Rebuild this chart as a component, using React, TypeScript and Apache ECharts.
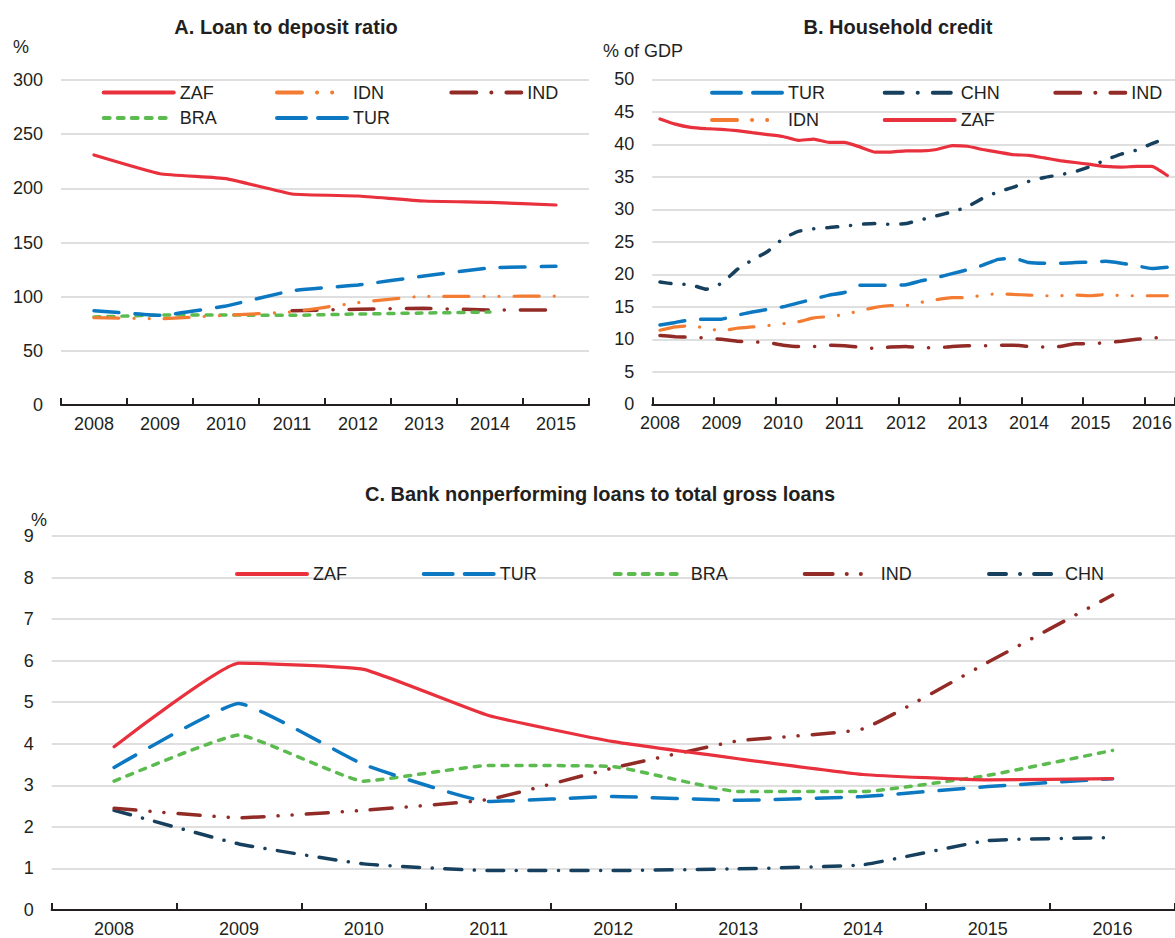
import React, { useEffect, useRef } from "react";
import * as echarts from "echarts";

// ---------- Panel A: Loan to deposit ratio (%) ----------
const yearsA = ["2008", "2009", "2010", "2011", "2012", "2013", "2014", "2015"];
const zafA = [230.8, 213.5, 208.9, 194.8, 192.9, 188.3, 187.1, 184.6];
const idnA = [80.6, 79.7, 82.8, 86.0, 94.5, 100.3, 100.3, 100.6];
const indA = [null, null, null, 87.1, 88.3, 89.2, 87.7, 87.7];
const braA = [81.2, 83.0, 83.0, 82.8, 84.0, 84.9, 85.8, null];
const turA = [87.1, 82.8, 91.4, 105.5, 110.8, 119.0, 126.5, 128.0];

// ---------- Panel B: Household credit (% of GDP), quarterly ----------
const quartersB = [
  "2008Q1", "2008Q2", "2008Q3", "2008Q4",
  "2009Q1", "2009Q2", "2009Q3", "2009Q4",
  "2010Q1", "2010Q2", "2010Q3", "2010Q4",
  "2011Q1", "2011Q2", "2011Q3", "2011Q4",
  "2012Q1", "2012Q2", "2012Q3", "2012Q4",
  "2013Q1", "2013Q2", "2013Q3", "2013Q4",
  "2014Q1", "2014Q2", "2014Q3", "2014Q4",
  "2015Q1", "2015Q2", "2015Q3", "2015Q4",
  "2016Q1", "2016Q2",
];
const turB = [
  12.2, 12.6, 13.0, 13.1, 13.1, 13.7, 14.2, 14.6, 15.0, 15.6, 16.2, 16.8,
  17.2, 18.3, 18.3, 18.3, 18.4, 19.0, 19.5, 20.1, 20.7, 21.4, 22.3, 22.5,
  21.8, 21.7, 21.7, 21.8, 21.9, 22.0, 21.7, 21.3, 20.9, 21.1,
];
const chnB = [
  18.8, 18.5, 18.4, 17.7, 18.6, 20.7, 22.2, 23.5, 25.5, 26.6, 27.0, 27.2,
  27.4, 27.7, 27.8, 27.7, 27.8, 28.4, 29.0, 29.6, 30.4, 31.7, 32.7, 33.4,
  34.3, 34.9, 35.3, 35.8, 36.6, 37.6, 38.5, 39.1, 40.1, 41.0,
];
const indB = [
  10.6, 10.4, 10.3, 10.2, 10.0, 9.7, 9.6, 9.5, 9.1, 8.9, 8.9, 9.1,
  9.0, 8.8, 8.6, 8.8, 8.9, 8.7, 8.7, 8.9, 9.0, 9.0, 9.1, 9.1,
  8.9, 8.8, 8.9, 9.3, 9.3, 9.5, 9.7, 10.0, 10.2, 10.3,
];
const idnB = [
  11.4, 11.9, 12.1, 11.7, 11.3, 11.7, 11.9, 12.1, 12.4, 12.7, 13.3, 13.5,
  13.8, 14.4, 14.9, 15.2, 15.2, 15.7, 16.1, 16.4, 16.4, 16.8, 17.0, 16.9,
  16.8, 16.7, 16.7, 16.8, 16.7, 16.9, 16.7, 16.7, 16.7, 16.7,
];
const zafB = [
  43.9, 43.1, 42.6, 42.4, 42.3, 42.1, 41.8, 41.5, 41.2, 40.6, 40.8, 40.3,
  40.3, 39.6, 38.8, 38.8, 39.0, 39.0, 39.2, 39.8, 39.7, 39.2, 38.8, 38.4,
  38.3, 37.9, 37.5, 37.2, 36.9, 36.6, 36.5, 36.6, 36.6, 35.2,
];

// ---------- Panel C: Bank NPL to total gross loans (%) ----------
const yearsC = ["2008", "2009", "2010", "2011", "2012", "2013", "2014", "2015", "2016"];
const zafC = [3.93, 5.94, 5.79, 4.68, 4.05, 3.64, 3.26, 3.13, 3.16];
const turC = [3.43, 4.97, 3.5, 2.61, 2.73, 2.64, 2.73, 2.97, 3.16];
const braC = [3.1, 4.21, 3.1, 3.48, 3.45, 2.85, 2.85, 3.24, 3.84];
const indC = [2.45, 2.22, 2.4, 2.66, 3.42, 4.07, 4.36, 5.96, 7.58];
const chnC = [2.4, 1.59, 1.11, 0.95, 0.95, 0.99, 1.09, 1.67, 1.74];

// ---------- styles ----------
const FONT = "'Liberation Sans', Arial, Helvetica, sans-serif";
const FS = 18;
const TXT = "#231f20";
const RED = "#e9303d";
const BLUE = "#0b78c1";
const GREEN = "#5cbb4f";
const ORANGE = "#f37b32";
const DARKRED = "#922b26";
const NAVY = "#17405e";
const W = 3.2;

const styles: Record<string, any> = {
  ZAF: { color: RED, width: W, type: "solid", cap: "round" },
  TUR: { color: BLUE, width: W + 0.3, type: [25, 16], cap: "round" },
  BRA: { color: GREEN, width: W + 0.3, type: [6, 8], cap: "round" },
  IDN: { color: ORANGE, width: W, type: [25, 15, 0.1, 15, 0.1, 15], cap: "round" },
  IND: { color: DARKRED, width: W + 0.3, type: [25, 16, 0.1, 16], cap: "round" },
  IND3: { color: DARKRED, width: W + 0.3, type: [22, 14, 0.1, 14, 0.1, 14], cap: "round" },
  CHN: { color: NAVY, width: W + 0.3, type: [11, 13, 0.1, 13], cap: "round" },
  CHN3: { color: NAVY, width: W + 0.3, type: [17, 12.5, 0.1, 12.5], cap: "round" },
};

// legend icon dash patterns
const legendDash: Record<string, any> = {
  ZAF: "solid",
  TUR: [29, 12],
  BRA: [6, 8],
  IDN: [25, 15, 0.1, 15, 0.1, 15],
  IND: [25, 15, 0.1, 15],
  IND3: [28, 14, 0.1, 14, 0.1, 14],
  CHN: [18, 15, 0.1, 15],
  CHN3: [17, 14, 0.1, 14],
};

function line(id: string, key: string, data: any[], idx: number) {
  const ls = styles[key];
  return {
    type: "line",
    name: id,
    data,
    xAxisIndex: idx,
    yAxisIndex: idx,
    symbol: "none",
    smooth: 0.12,
    connectNulls: false,
    lineStyle: { ...ls },
    itemStyle: { color: ls.color },
  };
}

function leg(id: string, key: string, left: number, cy: number) {
  const ls = styles[key];
  return {
    data: [id],
    left,
    top: cy - 9,
    padding: 0,
    itemWidth: 70,
    itemHeight: 14,
    selectedMode: false,
    itemStyle: { opacity: 0 },
    lineStyle: { color: ls.color, width: 4, type: legendDash[key], cap: "round" },
    formatter: (n: string) => n.slice(2),
    textStyle: { fontFamily: FONT, fontSize: FS, color: TXT, padding: [0, 0, 0, 1] },
  };
}

function valueAxis(idx: number, max: number, interval: number) {
  return {
    type: "value",
    gridIndex: idx,
    min: 0,
    max,
    interval,
    axisLine: { show: false },
    axisTick: { show: false },
    axisLabel: { fontFamily: FONT, fontSize: FS, color: TXT, margin: 18 },
    splitLine: { lineStyle: { color: "#d4d4d4", width: 1.6 } },
  };
}

const axisLineStyle = { lineStyle: { color: "#231f20", width: 2.2 } };

export default function App() {
  const ref = useRef<HTMLDivElement>(null);
  useEffect(() => {
    if (!ref.current) return;
    const chart = echarts.init(ref.current, undefined, { renderer: "svg" });
    const titleStyle = { fontFamily: FONT, fontSize: 20, fontWeight: "bold", color: TXT };
    chart.setOption({
      animation: false,
      backgroundColor: "#ffffff",
      title: [
        { text: "A. Loan to deposit ratio", left: 286, top: 27, textAlign: "center", textVerticalAlign: "middle", padding: 0, textStyle: titleStyle },
        { text: "B. Household credit", left: 898, top: 27, textAlign: "center", textVerticalAlign: "middle", padding: 0, textStyle: titleStyle },
        { text: "C. Bank nonperforming loans to total gross loans", left: 600, top: 494, textAlign: "center", textVerticalAlign: "middle", padding: 0, textStyle: titleStyle },
      ],
      graphic: [
        { type: "text", left: 13, top: 38, style: { text: "%", font: `${FS}px ${FONT}`, fill: TXT } },
        { type: "text", left: 603, top: 42, style: { text: "% of GDP", font: `${FS}px ${FONT}`, fill: TXT } },
        { type: "text", left: 31, top: 511, style: { text: "%", font: `${FS}px ${FONT}`, fill: TXT } },
      ],
      legend: [
        leg("A-ZAF", "ZAF", 101.7, 92.5),
        leg("A-IDN", "IDN", 275, 92.5),
        leg("A-IND", "IND", 449.3, 92.5),
        leg("A-BRA", "BRA", 101.7, 118),
        leg("A-TUR", "TUR", 275, 118),
        leg("B-TUR", "TUR", 710, 92.7),
        leg("B-CHN", "CHN", 882.7, 92.7),
        leg("B-IND", "IND", 1053.3, 92.7),
        leg("B-IDN", "IDN", 710, 120),
        leg("B-ZAF", "ZAF", 882.7, 120),
        leg("C-ZAF", "ZAF", 235, 574),
        leg("C-TUR", "TUR", 421.7, 574),
        leg("C-BRA", "BRA", 612.7, 574),
        leg("C-IND", "IND3", 802.7, 574),
        leg("C-CHN", "CHN3", 987, 574),
      ],
      grid: [
        { left: 61, top: 80, width: 528, height: 325 },
        { left: 652.3, top: 79.3, width: 522.75, height: 325 },
        { left: 51.7, top: 536, width: 1125, height: 377.3 },
      ],
      xAxis: [
        {
          type: "category",
          gridIndex: 0,
          data: yearsA,
          boundaryGap: true,
          axisLine: axisLineStyle,
          axisTick: { show: true, inside: true, length: 7, lineStyle: { color: "#231f20", width: 2 } },
          axisLabel: { fontFamily: FONT, fontSize: FS, color: TXT, margin: 10 },
        },
        {
          type: "category",
          gridIndex: 1,
          data: quartersB,
          boundaryGap: true,
          axisLine: axisLineStyle,
          axisTick: {
            show: true,
            inside: true,
            length: 7,
            interval: (i: number) => i % 4 === 0,
            lineStyle: { color: "#231f20", width: 2 },
          },
          axisLabel: {
            fontFamily: FONT,
            fontSize: FS,
            color: TXT,
            margin: 10,
            interval: (i: number) => i % 4 === 0,
            formatter: (v: string) => v.slice(0, 4),
          },
        },
        {
          type: "category",
          gridIndex: 2,
          data: yearsC,
          boundaryGap: true,
          axisLine: axisLineStyle,
          axisTick: { show: true, inside: true, length: 7, lineStyle: { color: "#231f20", width: 2 } },
          axisLabel: { fontFamily: FONT, fontSize: FS, color: TXT, margin: 10 },
        },
      ],
      yAxis: [valueAxis(0, 300, 50), valueAxis(1, 50, 5), valueAxis(2, 9, 1)],
      series: [
        line("A-IND", "IND", indA, 0),
        line("A-BRA", "BRA", braA, 0),
        line("A-IDN", "IDN", idnA, 0),
        line("A-TUR", "TUR", turA, 0),
        line("A-ZAF", "ZAF", zafA, 0),

        line("B-IND", "IND", indB, 1),
        line("B-IDN", "IDN", idnB, 1),
        line("B-TUR", "TUR", turB, 1),
        line("B-CHN", "CHN", chnB, 1),
        line("B-ZAF", "ZAF", zafB, 1),

        line("C-CHN", "CHN3", chnC, 2),
        line("C-IND", "IND3", indC, 2),
        line("C-BRA", "BRA", braC, 2),
        line("C-TUR", "TUR", turC, 2),
        line("C-ZAF", "ZAF", zafC, 2),
      ],
    });
    return () => chart.dispose();
  }, []);
  return (
    <div
      ref={ref}
      style={{ position: "fixed", left: 0, top: 0, width: 1175, height: 938, background: "#fff" }}
    />
  );
}
